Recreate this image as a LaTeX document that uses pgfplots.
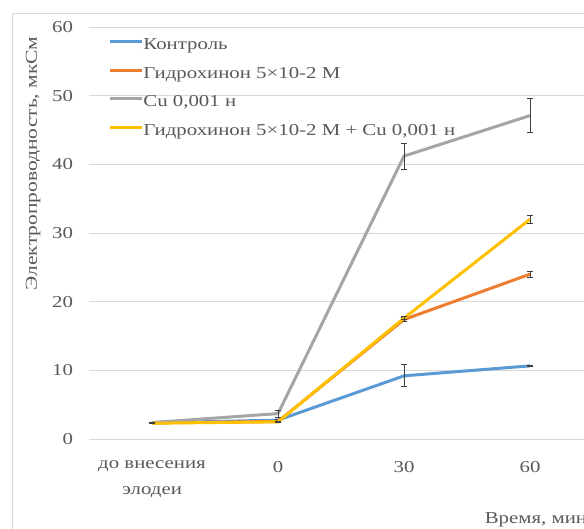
\documentclass[border=0pt]{standalone}
\usepackage{pgfplots}
\pgfplotsset{compat=1.18}
\usepackage{fontspec}
\setmainfont[FakeStretch=1.25]{Liberation Serif}
\newfontfamily\ylabfont[FakeStretch=1.29]{Liberation Serif}

\definecolor{ctrl}{HTML}{5B9BD5}
\definecolor{hq}{HTML}{ED7D31}
\definecolor{cu}{HTML}{A5A5A5}
\definecolor{mix}{HTML}{FFC000}
\definecolor{gridc}{HTML}{D9D9D9}
\definecolor{txt}{HTML}{595959}
\definecolor{errc}{HTML}{404040}

\begin{document}
\begin{tikzpicture}
% 1 px = 0.75 pt; origin at the top-left corner, y pointing down
\clip (0pt,0pt) rectangle (438pt,-396pt);
\fill[white] (0pt,0pt) rectangle (438pt,-396pt);
\draw[gridc, line width=0.75pt] (9pt,-10.5pt) rectangle (520pt,-520pt);
\begin{axis}[
  at={(66.75pt,-329.25pt)}, anchor=south west,
  scale only axis,
  width=378pt, height=309pt,
  xmin=-0.5, xmax=3.5,
  ymin=0, ymax=60,
  ytick={0,10,...,60},
  xtick={0,1,2,3},
  xticklabels={{до внесения\\элодеи},0,30,60},
  xticklabel style={align=center, font=\fontsize{12.5pt}{19pt}\selectfont, text=txt, yshift=-13pt},
  yticklabel style={font=\fontsize{12.5pt}{14pt}\selectfont, text=txt, xshift=-8.5pt},
  /pgf/number format/assume math mode=true,
  major tick length=0pt,
  axis line style={draw=none},
  ymajorgrids,
  grid style={gridc, line width=0.75pt},
  ylabel={Электропроводность, мкСм},
  ylabel style={at={(axis description cs:-0.111,0.669)}, anchor=center, font=\ylabfont\fontsize{12.5pt}{14pt}\selectfont, text=txt},
  xlabel={Время, мин},
  xlabel style={at={(axis description cs:0.776,-0.197)}, anchor=west, font=\fontsize{12.5pt}{14pt}\selectfont, text=txt},
  legend style={at={(axis description cs:0.038,0.975)}, anchor=north west,
    draw=none, fill=none, font=\fontsize{12.5pt}{14pt}\selectfont, text=txt,
    row sep=9.5pt, inner sep=0pt,
    nodes={inner sep=0pt, text height=9pt, text depth=3pt}},
  legend cell align=left,
  legend image code/.code={\draw[#1, line width=2.25pt] (0pt,3pt) -- (24pt,3pt);},
  every axis plot/.append style={line width=2.25pt},
  error bars/error bar style={errc, line width=0.75pt},
  error bars/error mark options={rotate=90, errc, mark size=2.6pt, line width=0.75pt},
  clip=false,
]
\addplot[ctrl, error bars/.cd, y dir=both, y explicit] coordinates {
  (0,2.35) +- (0,0.05)
  (1,2.75) +- (0,0.15)
  (2,9.2)  +- (0,1.6)
  (3,10.65) +- (0,0.1)
};
\addlegendentry{Контроль}
\addplot[hq, error bars/.cd, y dir=both, y explicit] coordinates {
  (0,2.35) +- (0,0.05)
  (1,2.55) +- (0,0.1)
  (2,17.4) +- (0,0.25)
  (3,24.0) +- (0,0.45)
};
\addlegendentry{Гидрохинон 5×10-2 М}
\addplot[cu, error bars/.cd, y dir=both, y explicit] coordinates {
  (0,2.4)  +- (0,0.05)
  (1,3.7)  +- (0,0.5)
  (2,41.2) +- (0,1.9)
  (3,47.1) +- (0,2.45)
};
\addlegendentry{Cu 0,001 н}
\addplot[mix, error bars/.cd, y dir=both, y explicit] coordinates {
  (0,2.3)  +- (0,0.05)
  (1,2.5)  +- (0,0.1)
  (2,17.6) +- (0,0.2)
  (3,32.0) +- (0,0.55)
};
\addlegendentry{Гидрохинон 5×10-2 М + Cu 0,001 н}
\end{axis}
\end{tikzpicture}
\end{document}
